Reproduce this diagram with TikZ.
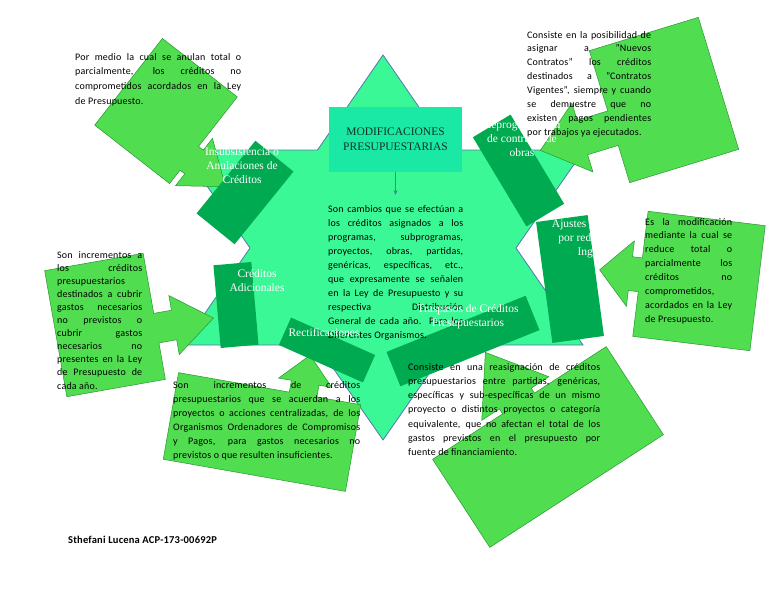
\documentclass[tikz,border=0pt]{standalone}
\usepackage{fontspec}
\setmainfont{Carlito}[LetterSpace=2]
\newfontfamily\lblfont{Liberation Serif}
\usetikzlibrary{arrows.meta}
\definecolor{starfill}{RGB}{58,248,150}
\definecolor{starline}{RGB}{84,120,178}
\definecolor{callfill}{RGB}{80,222,80}
\definecolor{callline}{RGB}{40,150,50}
\definecolor{dkgreen}{RGB}{0,170,80}
\definecolor{titlefill}{RGB}{26,232,165}
\definecolor{titletext}{RGB}{20,50,35}
\newcommand{\jl}[1]{\makebox[\linewidth][s]{#1}\\}
\newcommand\callout[9]{\def\cA{#4}\def\cB{#5}\def\cO{#6}\def\cL{#7}\def\cS{#8}\def\cHW{#9}\calloutdraw{#1}{#2}{#3}}
\newcommand\calloutdraw[4]{%
  \begin{scope}[shift={(#1,#2)},rotate=#3]
    \path[callshape] (-\cA,-\cB) -- (\cA,-\cB) -- (\cA,\cO-\cS) -- (\cA+\cL,\cO-\cS) -- (\cA+\cL,\cO-\cHW)
      -- (\cA+\cL+#4,\cO) -- (\cA+\cL,\cO+\cHW) -- (\cA+\cL,\cO+\cS) -- (\cA,\cO+\cS) -- (\cA,\cB) -- (-\cA,\cB) -- cycle;
  \end{scope}}
\tikzset{
  starshape/.style={fill=starfill,draw=starline,line width=0.8pt,line join=miter},
  callshape/.style={fill=callfill,draw=callline,line width=0.5pt},
  dbox/.style={fill=dkgreen,draw=none,inner sep=0pt},
  lbl/.style={text=white,align=center,inner sep=0pt,font=\lblfont\fontsize{11.5}{14}\selectfont},
  txt/.style={inner sep=0pt,anchor=base west,text=black},
  titlebox/.style={fill=titlefill,draw=none,minimum width=133pt,minimum height=65pt,align=center,
    text=titletext,font=\lblfont\fontsize{11.5}{15}\selectfont},
  titlearrow/.style={draw=starline,line width=0.7pt,-{Stealth[length=5pt,width=4pt]}}
}
\begin{document}
\begin{tikzpicture}[x=1pt,y=-1pt]
\useasboundingbox (0,0) rectangle (768,594);
\fill[white] (0,0) rectangle (768,594);
% star
\path[starshape] (383,55) -- (448.5,150) -- (584,150) -- (516,248) -- (583,345) -- (449,345) -- (383,440)
  -- (317,345) -- (183,345) -- (250,248) -- (182,150) -- (317.5,150) -- cycle;
% title
\node[titlebox] (title) at (395.5,139.5) {MODIFICACIONES\\PRESUPUESTARIAS};
\coordinate (tend) at (395.5,195);
\draw[titlearrow] (title.south) -- (tend);
% callouts: cx cy rot halfw halfh offset shaftlen shafthalf headhalf headlen
\callout{166}{111}{-38}{47.5}{55}{23}{6}{15}{30}{40}
\callout{664}{100}{-163}{57}{69}{-12}{32}{18}{36}{44}
\callout{699}{281}{-187}{59}{63}{-1}{10}{17}{33}{31}
\callout{105}{325}{10}{50}{64}{12}{18}{15}{30}{40}
\callout{262}{432}{80}{44}{92.5}{34}{12}{14}{27}{28}
\callout{548}{447}{123}{52.5}{103.5}{-1}{6}{19}{40}{55}
% dark boxes
\node[dbox,minimum width=49pt,minimum height=93.5pt,rotate=-39] (bInsub) at (245,192.5) {};
\node[dbox,minimum width=44pt,minimum height=104pt,rotate=31] (bRepro) at (518.5,170.5) {};
\node[dbox,minimum width=52pt,minimum height=122pt,rotate=7.7] (bAjus) at (570,279) {};
\node[dbox,minimum width=38pt,minimum height=83pt,rotate=5] (bAdic) at (236,305) {};
\node[dbox,minimum width=92pt,minimum height=30pt,rotate=-24] (bRect) at (327,350) {};
\node[dbox,minimum width=150pt,minimum height=37pt,rotate=22] (bTras) at (463,341) {};
% black texts
\node[txt] (tA) at (75,60) {\parbox[t]{166pt}{\fontsize{10}{14.7}\selectfont
\jl{Por medio la cual se anulan total o}
\jl{parcialmente, los créditos no}
\jl{comprometidos acordados en la Ley}
de Presupuesto.}};
\node[txt] (tB) at (527,38) {\parbox[t]{124pt}{\fontsize{10}{13.9}\selectfont
\jl{Consiste en la posibilidad de}
\jl{asignar a "Nuevos}
\jl{Contratos" los créditos}
\jl{destinados a "Contratos}
\jl{Vigentes", siempre y cuando}
\jl{se demuestre que no}
\jl{existen pagos pendientes}
por trabajos ya ejecutados.}};
\node[txt] (tC) at (645,225) {\parbox[t]{87pt}{\fontsize{10}{13.9}\selectfont
\jl{Es la modificación}
\jl{mediante la cual se}
\jl{reduce total o}
\jl{parcialmente los}
\jl{créditos no}
comprometidos,\\
\jl{acordados en la Ley}
de Presupuesto.}};
\node[txt] (tD) at (57,258) {\parbox[t]{85pt}{\fontsize{10}{13.1}\selectfont
\jl{Son incrementos a}
\jl{los créditos}
presupuestarios\\
\jl{destinados a cubrir}
\jl{gastos necesarios}
\jl{no previstos o}
\jl{cubrir gastos}
\jl{necesarios no}
\jl{presentes en la Ley}
\jl{de Presupuesto de}
cada año.}};
\node[txt] (tE) at (173,388) {\parbox[t]{187pt}{\fontsize{10}{14}\selectfont
\jl{Son incrementos de créditos}
\jl{presupuestarios que se acuerdan a los}
\jl{proyectos o acciones centralizadas, de los}
\jl{Organismos Ordenadores de Compromisos}
\jl{y Pagos, para gastos necesarios no}
previstos o que resulten insuficientes.}};
\node[txt] (tF) at (408,370) {\parbox[t]{192pt}{\fontsize{10}{14.3}\selectfont
\jl{Consiste en una reasignación de créditos}
\jl{presupuestarios entre partidas, genéricas,}
\jl{específicas y sub-específicas de un mismo}
\jl{proyecto o distintos proyectos o categoría}
\jl{equivalente, que no afectan el total de los}
\jl{gastos previstos en el presupuesto por}
fuente de financiamiento.}};
\node[txt] (tMain) at (328,212) {\parbox[t]{135pt}{\fontsize{10}{14.08}\selectfont
\jl{Son cambios que se efectúan a}
\jl{los créditos asignados a los}
\jl{programas, subprogramas,}
\jl{proyectos, obras, partidas,}
\jl{genéricas, específicas, etc.,}
\jl{que expresamente se señalen}
\jl{en la Ley de Presupuesto y su}
\jl{respectiva Distribución}
\jl{General de cada año. Para los}
Diferentes Organismos.}};
% white labels
\node[lbl] (lInsub) at (242,166) {Insubsistencia o\\Anulaciones de\\Créditos};
\node[lbl] (lRepro) at (522,139) {Reprogramación\\de contratos de\\obras};
\node[lbl] (lAjus) at (597,239) {Ajustes en Créditos\\por reducción de\\Ingresos};
\node[lbl] (lAdic) at (257,281) {Créditos\\Adicionales};
\node[lbl] (lRect) at (324,333) {Rectificaciones};
\node[lbl] (lTras) at (468,317) {Traspasos de Créditos\\Presupuestarios};
% author
\node[txt,font=\bfseries\fontsize{10.5}{12}\selectfont] (author) at (68,543) {Sthefani Lucena ACP-173-00692P};
\end{tikzpicture}
\end{document}
